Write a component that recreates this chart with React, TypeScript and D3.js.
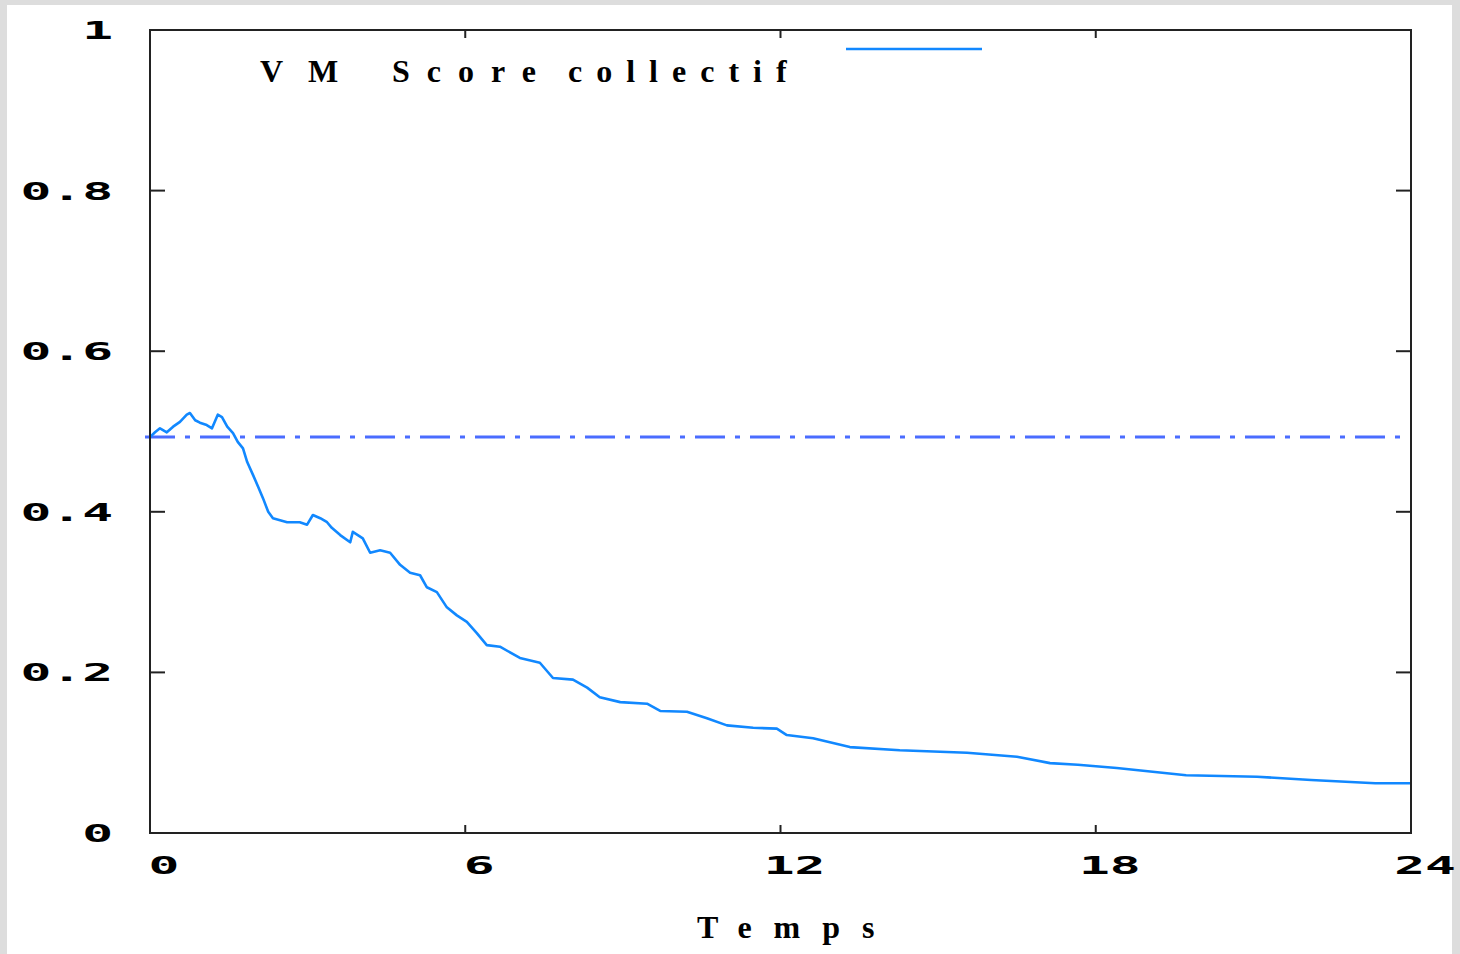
import React from "react";
import * as d3 from "d3";

// time (hours) and collective score
const times = [
  0, 0.095, 0.19, 0.32, 0.44, 0.57, 0.7, 0.76, 0.86, 0.95, 1.08, 1.18, 1.29,
  1.37, 1.47, 1.58, 1.67, 1.77, 1.85, 1.96, 2.06, 2.15, 2.25, 2.34, 2.61, 2.85,
  2.99, 3.1, 3.24, 3.37, 3.46, 3.62, 3.81, 3.86, 4.05, 4.19, 4.38, 4.57, 4.76,
  4.95, 5.14, 5.27, 5.46, 5.65, 5.84, 6.03, 6.22, 6.41, 6.66, 7.04, 7.42, 7.67,
  8.05, 8.32, 8.56, 8.95, 9.46, 9.71, 10.22, 10.6, 10.98, 11.48, 11.93, 12.12,
  12.62, 13.32, 14.27, 15.55, 16.5, 17.13, 17.66, 18.4, 19.72, 21.07, 22.1,
  23.32, 24,
];
const scores = [
  0.493, 0.499, 0.504, 0.499, 0.506, 0.512, 0.521, 0.523, 0.514, 0.511, 0.508,
  0.504, 0.521, 0.518, 0.506, 0.498, 0.487, 0.479, 0.462, 0.446, 0.431, 0.417,
  0.4, 0.392, 0.387, 0.387, 0.384, 0.396, 0.392, 0.387, 0.38, 0.371, 0.362,
  0.375, 0.367, 0.349, 0.352, 0.349, 0.334, 0.324, 0.321, 0.306, 0.3, 0.281,
  0.271, 0.263, 0.249, 0.234, 0.232, 0.218, 0.212, 0.193, 0.191, 0.181, 0.169,
  0.163, 0.161, 0.152, 0.151, 0.143, 0.134, 0.131, 0.13, 0.122, 0.118, 0.107,
  0.103, 0.1, 0.095, 0.087, 0.085, 0.081, 0.072, 0.07, 0.066, 0.062, 0.062,
];
const baseline = 0.493;

const xTicks = [0, 6, 12, 18, 24];
const yTicks = [0, 0.2, 0.4, 0.6, 0.8, 1];
const yTickLabels = ["0", "0.2", "0.4", "0.6", "0.8", "1"];
const legendLabel = ["VM", "Score", "collectif"];
const xLabel = "Temps";

const W = 1460;
const H = 954;
const left = 150;
const right = 1411;
const top = 30;
const bottom = 833;

const tickFont = {
  fontFamily: "'DejaVu Sans Mono', monospace",
  fontWeight: "bold" as const,
  fontSize: 25,
};
const serif = {
  fontFamily: "'Liberation Serif', 'Times New Roman', serif",
  fontWeight: "bold" as const,
  fontSize: 32,
};

export default function App() {
  const x = d3.scaleLinear().domain([0, 24]).range([left, right]);
  const y = d3.scaleLinear().domain([0, 1]).range([bottom, top]);

  const pts: [number, number][] = times.map((t, i) => [t, scores[i]]);
  const line = d3
    .line<[number, number]>()
    .x((d) => x(d[0]))
    .y((d) => y(d[1]));

  return (
    <div style={{ position: "absolute", left: 0, top: 0 }}>
      <svg width={W} height={H} style={{ display: "block" }}>
        <rect x={0} y={0} width={W} height={H} fill="#dddddd" />
        <rect x={7} y={5} width={1445} height={H - 5} fill="#ffffff" />

        {/* reference level */}
        <line
          x1={x(0) - 5}
          x2={x(24)}
          y1={y(baseline)}
          y2={y(baseline)}
          stroke="#4a6cff"
          strokeWidth={3}
          strokeDasharray="30,10,5,10"
        />

        {/* score curve */}
        <path
          d={line(pts) || ""}
          fill="none"
          stroke="#1188ff"
          strokeWidth={2.6}
          strokeLinejoin="round"
        />

        {/* frame */}
        <rect
          x={left}
          y={top}
          width={right - left}
          height={bottom - top}
          fill="none"
          stroke="#222"
          strokeWidth={2}
        />

        {/* y ticks, mirrored */}
        {yTicks.map((v, i) => (
          <g key={"y" + i}>
            <line x1={left} x2={left + 15} y1={y(v)} y2={y(v)} stroke="#222" strokeWidth={2} />
            <line x1={right - 15} x2={right} y1={y(v)} y2={y(v)} stroke="#222" strokeWidth={2} />
            <g transform={`translate(113,${y(v)}) scale(2.05,1)`}>
              <text x={0} y={0} dy="0.36em" textAnchor="end" fill="#000" {...tickFont}>
                {yTickLabels[i]}
              </text>
            </g>
          </g>
        ))}

        {/* x ticks, mirrored */}
        {xTicks.map((t) => (
          <g key={"x" + t}>
            <line x1={x(t)} x2={x(t)} y1={bottom} y2={bottom - 8} stroke="#222" strokeWidth={2} />
            <line x1={x(t)} x2={x(t)} y1={top} y2={top + 8} stroke="#222" strokeWidth={2} />
            <g transform={`translate(${x(t) + 14},865) scale(2.05,1)`}>
              <text x={0} y={0} dy="0.36em" textAnchor="middle" fill="#000" {...tickFont}>
                {t}
              </text>
            </g>
          </g>
        ))}

        {/* legend */}
        <text y={82} fill="#000" {...serif}>
          <tspan x={260} letterSpacing={25}>{legendLabel[0]}</tspan>
          <tspan x={392} letterSpacing={17}>{legendLabel[1]}</tspan>
          <tspan x={568} letterSpacing={14}>{legendLabel[2]}</tspan>
        </text>
        <line x1={846} x2={982} y1={49} y2={49} stroke="#1188ff" strokeWidth={2.5} />

        {/* x axis title */}
        <text x={697} y={938} letterSpacing={22} fill="#000" {...serif}>
          {xLabel}
        </text>
      </svg>
    </div>
  );
}
